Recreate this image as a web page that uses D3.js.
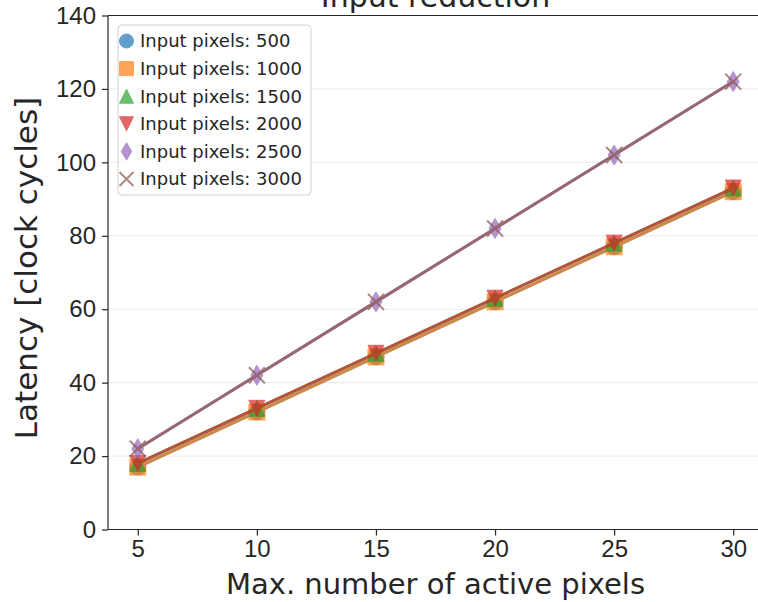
<!DOCTYPE html>
<html lang="en">
<head>
<meta charset="UTF-8">
<title>Input reduction</title>
<style>
  body { margin: 0; background: #fff; }
  svg { font-family: "DejaVu Sans", sans-serif; }
  .axis path, .axis line { stroke: #262626; stroke-width: 1.2; }
  .axis text { font-size: 24px; fill: #262626; }
  .grid line { stroke: #ebebeb; stroke-width: 1; }
</style>
<script src="https://d3js.org/d3.v7.min.js"></script>
</head>
<body>
<script>
// x values shared by every series
const activePixels = [5, 10, 15, 20, 25, 30];
const seriesNames = ["Input pixels: 500", "Input pixels: 1000", "Input pixels: 1500",
                     "Input pixels: 2000", "Input pixels: 2500", "Input pixels: 3000"];
const lat500  = [17, 32, 47, 62, 77, 92];
const lat1000 = [17, 32, 47, 62, 77, 92];
const lat1500 = [18, 33, 48, 63, 78, 93];
const lat2000 = [18, 33, 48, 63, 78, 93];
const lat2500 = [22, 42, 62, 82, 102, 122];
const lat3000 = [22, 42, 62, 82, 102, 122];
const yTicks = [0, 20, 40, 60, 80, 100, 120, 140];
const xTicks = [5, 10, 15, 20, 25, 30];

const colors = ["#1f77b4", "#ff7f0e", "#2ca02c", "#d62728", "#9467bd", "#8c564b"];
const markers = ["circle", "square", "triUp", "triDown", "diamond", "cross"];

const series = [lat500, lat1000, lat1500, lat2000, lat2500, lat3000].map((vals, i) => ({
  name: seriesNames[i], color: colors[i], marker: markers[i],
  points: activePixels.map((x, j) => ({ x: x, y: vals[j] }))
}));

const width = 758, height = 602;
const margin = { top: 15.5, right: -5, bottom: 72.5, left: 108 };
const innerW = width - margin.left - margin.right;
const innerH = height - margin.top - margin.bottom;

const svg = d3.select("body").append("svg")
  .attr("width", width)
  .attr("height", height);

const g = svg.append("g")
  .attr("transform", `translate(${margin.left},${margin.top})`);

const x = d3.scaleLinear().domain([3.75, 31.25]).range([0, innerW]);
const y = d3.scaleLinear().domain([0, 140]).range([innerH, 0]);

// grid
g.append("g").attr("class", "grid")
  .selectAll("line").data(yTicks.slice(1)).enter().append("line")
  .attr("x1", 0).attr("x2", innerW)
  .attr("y1", d => y(d)).attr("y2", d => y(d));

// marker shapes, r = half size in px
function markerPath(type, r) {
  switch (type) {
    case "circle":
      return d3.symbol(d3.symbolCircle, Math.PI * r * r)();
    case "square":
      return `M${-r},${-r}H${r}V${r}H${-r}Z`;
    case "triUp":
      return `M0,${-r}L${r},${r}L${-r},${r}Z`;
    case "triDown":
      return `M0,${r}L${r},${-r}L${-r},${-r}Z`;
    case "diamond":
      return `M0,${-r * 1.25}L${r * 0.75},0L0,${r * 1.25}L${-r * 0.75},0Z`;
    case "cross":
      return `M${-r},${-r}L${r},${r}M${-r},${r}L${r},${-r}`;
  }
}

function drawMarker(sel, s, r) {
  if (s.marker === "cross") {
    sel.attr("d", markerPath(s.marker, r))
      .attr("fill", "none")
      .attr("stroke", s.color).attr("stroke-width", 2);
  } else {
    sel.attr("d", markerPath(s.marker, r))
      .attr("fill", s.color).attr("stroke", s.color).attr("stroke-width", 1);
  }
}

const line = d3.line().x(d => x(d.x)).y(d => y(d.y));

series.forEach(s => {
  const sg = g.append("g").attr("opacity", 0.7);
  sg.append("path")
    .datum(s.points)
    .attr("d", line)
    .attr("fill", "none")
    .attr("stroke", s.color)
    .attr("stroke-width", 3);
  sg.selectAll("path.mk").data(s.points).enter().append("path")
    .attr("class", "mk")
    .attr("transform", d => `translate(${x(d.x)},${y(d.y)})`)
    .call(sel => drawMarker(sel, s, 8));
});

// axes
g.append("g").attr("class", "axis")
  .attr("transform", `translate(0,${innerH})`)
  .call(d3.axisBottom(x).tickValues(xTicks).tickSize(6).tickPadding(4).tickFormat(d3.format("d")))
  .call(a => a.select(".domain").attr("d", `M0,0H${innerW}`));

g.append("g").attr("class", "axis")
  .call(d3.axisLeft(y).tickValues(yTicks).tickSize(6).tickPadding(6))
  .call(a => a.select(".domain").attr("d", `M0,0V${innerH}`));

// top spine
g.append("line")
  .attr("x1", 0).attr("x2", innerW).attr("y1", 0).attr("y2", 0)
  .attr("stroke", "#262626").attr("stroke-width", 1.2);

// labels
svg.append("text")
  .attr("x", margin.left + x(17.5)).attr("y", 594)
  .attr("text-anchor", "middle")
  .attr("font-size", 29).attr("fill", "#262626")
  .text("Max. number of active pixels");

svg.append("text")
  .attr("transform", "translate(37,268) rotate(-90)")
  .attr("text-anchor", "middle")
  .attr("font-size", 31).attr("fill", "#262626")
  .text("Latency [clock cycles]");

svg.append("text")
  .attr("x", margin.left + x(17.5)).attr("y", 7)
  .attr("text-anchor", "middle")
  .attr("font-size", 30).attr("fill", "#262626")
  .text("Input reduction");

// legend
const lg = g.append("g").attr("transform", "translate(10,9.5)");
lg.append("rect")
  .attr("width", 193).attr("height", 170).attr("rx", 4)
  .attr("fill", "#fff").attr("fill-opacity", 0.8)
  .attr("stroke", "#d0d0d0");

series.forEach((s, i) => {
  const row = lg.append("g").attr("transform", `translate(0,${16 + i * 27.6})`);
  row.append("path")
    .attr("transform", "translate(8.5,0)")
    .attr("opacity", 0.7)
    .call(sel => drawMarker(sel, s, 7));
  row.append("text")
    .attr("x", 22).attr("dy", "0.35em")
    .attr("font-size", 18).attr("fill", "#262626")
    .text(s.name);
});
</script>
</body>
</html>
